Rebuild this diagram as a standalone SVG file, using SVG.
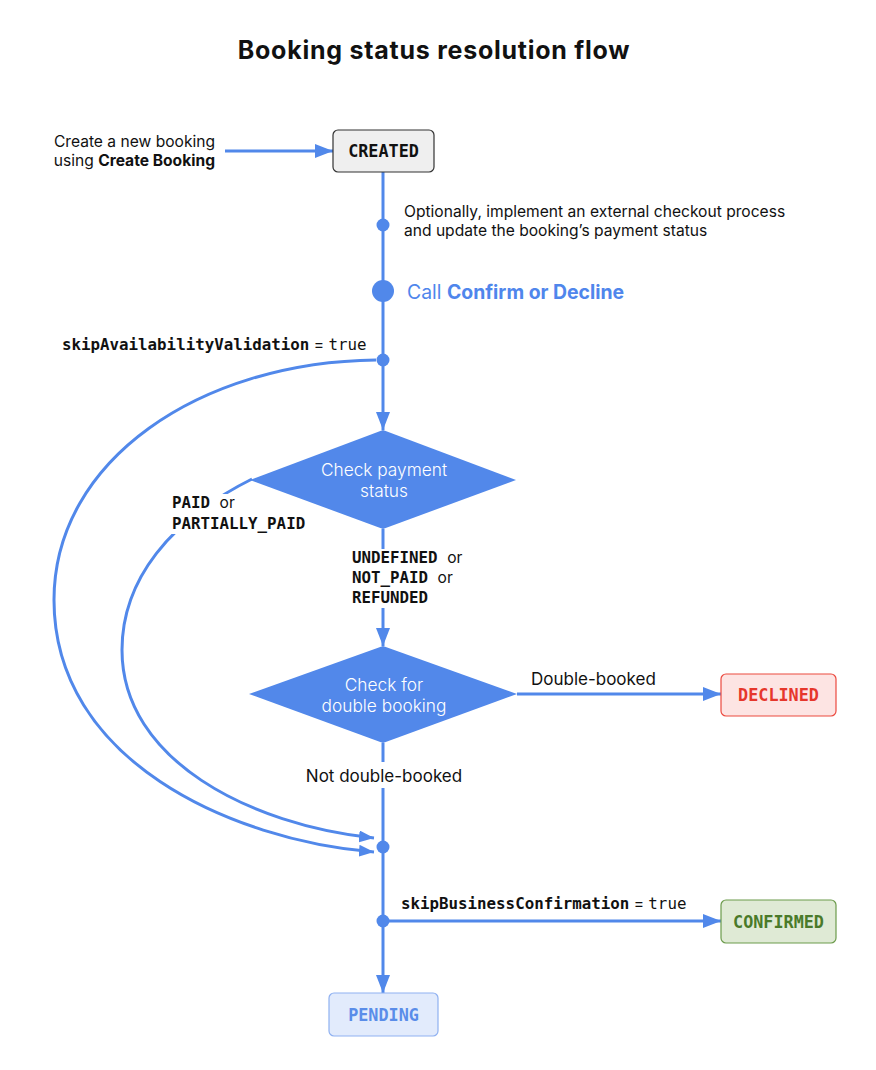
<svg xmlns="http://www.w3.org/2000/svg" width="876" height="1070" viewBox="0 0 876 1070">
<style>
.ln{fill:none;stroke:#5188ea;stroke-width:3}
.dot{fill:#5188ea}
.txt{font-family:Inter,"Noto Sans",sans-serif;font-size:15.6px;fill:#111}
.lbl{font-family:Inter,"Noto Sans",sans-serif;font-size:17px;fill:#111}
.mono{font-family:"DejaVu Sans Mono","Liberation Mono",monospace;font-size:15.8px;fill:#111}
.eq{font-family:Inter,"Noto Sans",sans-serif;font-size:15.6px}
.b{font-weight:bold}
.dia{fill:#5288ea}
.dtxt{font-family:Inter,"Noto Sans",sans-serif;font-size:17.3px;fill:#fff;font-weight:300;text-anchor:middle}
.btxt{font-family:"DejaVu Sans Mono","Liberation Mono",monospace;font-size:16.8px;font-weight:bold;text-anchor:middle}
.bg{fill:#fff}
</style>
<defs>
<marker id="arr" viewBox="0 0 18 14" refX="18" refY="7" markerWidth="18" markerHeight="14" orient="auto" markerUnits="userSpaceOnUse"><path d="M0 0 L18 7 L0 14 z" fill="#5188ea"/></marker>
<marker id="arrs" viewBox="0 0 15 12" refX="15" refY="6" markerWidth="15" markerHeight="12" orient="auto" markerUnits="userSpaceOnUse"><path d="M0 0 L15 6 L0 12 z" fill="#5188ea"/></marker>
</defs>
<rect width="876" height="1070" fill="#fff"/>
<text x="434" y="59" text-anchor="middle" font-family="Inter,'Noto Sans',sans-serif" font-size="25" font-weight="bold" letter-spacing="0.75" fill="#111">Booking status resolution flow</text>

<g id="connectors">
<path class="ln" d="M225 151 L333 151" marker-end="url(#arr)"/>
<path class="ln" d="M383 172 L383 360"/>
<path class="ln" d="M383 360 L383 430" marker-end="url(#arr)"/>
<path class="ln" d="M383 529 L383 646" marker-end="url(#arr)"/>
<path class="ln" d="M517 694 L721 694" marker-end="url(#arr)"/>
<path class="ln" d="M383 743 L383 921"/>
<path class="ln" d="M383 921 L721 921" marker-end="url(#arr)"/>
<path class="ln" d="M383 921 L383 993" marker-end="url(#arr)"/>
<path class="ln" d="M376 360 C200 362 54 460 54 600 C54 760 230 840 374 852" marker-end="url(#arrs)"/>
<path class="ln" d="M252 479 C170 520 122 580 122 650 C122 760 250 825 374 838" marker-end="url(#arrs)"/>
<circle class="dot" cx="383" cy="225" r="6.5"/>
<circle class="dot" cx="383" cy="291" r="11"/>
<circle class="dot" cx="383" cy="360" r="6.5"/>
<circle class="dot" cx="383" cy="847" r="6.5"/>
<circle class="dot" cx="383" cy="921" r="6.5"/>
</g>

<g id="label-backgrounds">
<rect class="bg" x="166" y="494" width="144" height="40"/>
<rect class="bg" x="348" y="549" width="122" height="59"/>
<rect class="bg" x="300" y="762" width="170" height="26"/>
</g>

<g id="created">
<rect x="333" y="130" width="101" height="42" rx="5" fill="#efefef" stroke="#333" stroke-width="1.2"/>
<text x="383.5" y="157" class="btxt" fill="#111">CREATED</text>
</g>

<g id="check-payment">
<path class="dia" d="M383 430 L516 480 L383 529 L250 480 Z"/>
<text x="384" y="476" class="dtxt">Check payment</text>
<text x="384" y="497" class="dtxt">status</text>
</g>

<g id="check-double">
<path class="dia" d="M383 646 L517 694 L383 743 L249 694 Z"/>
<text x="384" y="691" class="dtxt">Check for</text>
<text x="384" y="712" class="dtxt">double booking</text>
</g>

<g id="declined">
<rect x="721" y="674" width="115" height="42" rx="5" fill="#fde4e3" stroke="#ec4a3f" stroke-width="1.2"/>
<text x="778.5" y="701" class="btxt" fill="#e6372c">DECLINED</text>
</g>

<g id="confirmed">
<rect x="721" y="900" width="115" height="43" rx="5" fill="#dfead5" stroke="#6c9b4c" stroke-width="1.2"/>
<text x="778.5" y="928" class="btxt" fill="#4a7a2a">CONFIRMED</text>
</g>

<g id="pending">
<rect x="329" y="993" width="109" height="43" rx="5" fill="#e2ebfc" stroke="#8fb1f1" stroke-width="1.2"/>
<text x="383.5" y="1021" class="btxt" fill="#5a8de9">PENDING</text>
</g>

<g id="labels">
<text class="txt" x="215" y="147" text-anchor="end">Create a new booking</text>
<text class="txt" x="215" y="166" text-anchor="end">using <tspan class="b">Create Booking</tspan></text>
<text class="txt" x="404" y="217">Optionally, implement an external checkout process</text>
<text class="txt" x="404" y="236">and update the booking’s payment status</text>
<text x="407" y="299" font-family="Inter,'Noto Sans',sans-serif" font-size="19.4" fill="#4f86ec">Call <tspan font-weight="bold">Confirm or Decline</tspan></text>
<text class="mono" x="62" y="350"><tspan class="b">skipAvailabilityValidation</tspan><tspan class="eq"> = </tspan>true</text>
<text class="mono" x="172" y="508"><tspan class="b">PAID</tspan> <tspan class="eq">or</tspan></text>
<text class="mono b" x="172" y="529">PARTIALLY_PAID</text>
<text class="mono" x="352" y="563"><tspan class="b">UNDEFINED</tspan> <tspan class="eq">or</tspan></text>
<text class="mono" x="352" y="583"><tspan class="b">NOT_PAID</tspan> <tspan class="eq">or</tspan></text>
<text class="mono b" x="352" y="603">REFUNDED</text>
<text class="lbl" x="531" y="685">Double-booked</text>
<text class="lbl" x="384" y="782" text-anchor="middle">Not double-booked</text>
<text class="mono" x="401" y="909"><tspan class="b">skipBusinessConfirmation</tspan><tspan class="eq"> = </tspan>true</text>
</g>
</svg>
